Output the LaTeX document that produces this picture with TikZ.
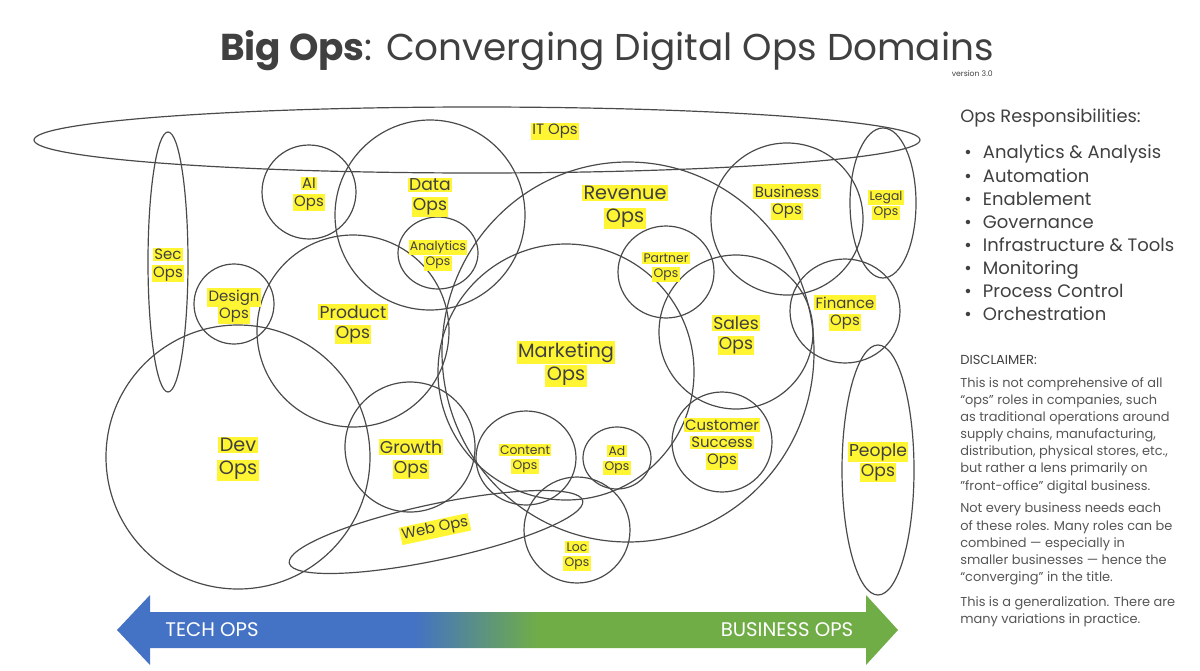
\documentclass[tikz,border=0pt]{standalone}
\usepackage{fontspec}
\setmainfont{Poppins}
\definecolor{inkgrey}{HTML}{404040}
\definecolor{notegrey}{HTML}{555555}
\definecolor{ringgrey}{HTML}{4A4A4A}
\definecolor{hlyellow}{HTML}{FFF533}
\definecolor{techblue}{HTML}{4472C4}
\definecolor{bizgreen}{HTML}{70AD47}
\pgfdeclarehorizontalshading{techbiz}{100bp}{color(0bp)=(techblue); color(44bp)=(techblue); color(52bp)=(bizgreen); color(100bp)=(bizgreen)}
\newcommand{\hilite}[1]{{\setlength{\fboxsep}{1pt}\colorbox{hlyellow}{#1}}}

\begin{document}
\begin{tikzpicture}[
                x=0.025cm, y=-0.025cm,
                ring/.style={draw=ringgrey, line width=0.85pt},
                tag/.style={align=center, inner sep=0pt, text=inkgrey, yshift=-1.5pt},
                hugetag/.style={tag, font=\fontsize{13.7}{16.3}\selectfont},
                bigtag/.style={tag, font=\fontsize{12.2}{14.2}\selectfont},
                midtag/.style={tag, font=\fontsize{10.6}{12.4}\selectfont},
                smalltag/.style={tag, font=\fontsize{8.8}{11}\selectfont},
            ]
                \useasboundingbox (0,0) rectangle (1200,670);
                \node[font=\fontsize{26.6}{32}\selectfont, text=inkgrey] (title) at (607,51) {\textbf{Big Ops}: Converging Digital Ops Domains};
                \node[font=\fontsize{5.5}{7}\selectfont, text=inkgrey, anchor=east, inner sep=0pt] (version) at (993,74) {version 3.0};

                \draw[ring] (477,140) ellipse [x radius=443, y radius=33];
                \draw[ring] (168,262) ellipse [x radius=20, y radius=130];
                \draw[ring] (309,192) circle [radius=47];
                \draw[ring] (430,215) circle [radius=95];
                \draw[ring] (438,253) ellipse [x radius=40, y radius=36];
                \draw[ring] (234,304) circle [radius=40];
                \draw[ring] (353,331) circle [radius=96];
                \draw[ring] (238,457) circle [radius=132];
                \draw[ring] (410,447) circle [radius=65];
                \draw[ring] (628,352) ellipse [x radius=186, y radius=190];
                \draw[ring] (566,372) circle [radius=128];
                \draw[ring] (526,458) ellipse [x radius=50, y radius=47];
                \draw[ring] (617,458) ellipse [x radius=34, y radius=31];
                \draw[ring, rotate around={12:(436,532)}] (436,532) ellipse [x radius=150, y radius=28];
                \draw[ring] (577,530) circle [radius=53];
                \draw[ring] (666,272) ellipse [x radius=48, y radius=46];
                \draw[ring] (736,332) circle [radius=77];
                \draw[ring] (787,219) circle [radius=76];
                \draw[ring] (883,203) ellipse [x radius=33, y radius=75];
                \draw[ring] (845,311) ellipse [x radius=55, y radius=52];
                \draw[ring] (722,442) circle [radius=50];
                \draw[ring] (878,470) ellipse [x radius=36, y radius=125];

                \node[midtag] (itops) at (555,129) {\hilite{IT Ops}};
                \node[midtag] (secops) at (168,263) {\hilite{Sec}\\\hilite{Ops}};
                \node[midtag] (aiops) at (309,192) {\hilite{AI}\\\hilite{Ops}};
                \node[bigtag] (dataops) at (430,195) {\hilite{Data}\\\hilite{Ops}};
                \node[smalltag] (analyticsops) at (438,253) {\hilite{Analytics}\\\hilite{Ops}};
                \node[midtag] (designops) at (234,304) {\hilite{Design}\\\hilite{Ops}};
                \node[bigtag] (productops) at (353,322) {\hilite{Product}\\\hilite{Ops}};
                \node[hugetag] (devops) at (238,457) {\hilite{Dev}\\\hilite{Ops}};
                \node[bigtag] (growthops) at (411,457) {\hilite{Growth}\\\hilite{Ops}};
                \node[hugetag] (revops) at (625,205) {\hilite{Revenue}\\\hilite{Ops}};
                \node[hugetag] (mktops) at (566,362) {\hilite{Marketing}\\\hilite{Ops}};
                \node[smalltag] (contentops) at (525,457) {\hilite{Content}\\\hilite{Ops}};
                \node[smalltag] (adops) at (617,458) {\hilite{Ad}\\\hilite{Ops}};
                \node[midtag, rotate=12] (webops) at (435,527) {\hilite{Web Ops}};
                \node[smalltag] (locops) at (577,554) {\hilite{Loc}\\\hilite{Ops}};
                \node[smalltag] (partnerops) at (666,265) {\hilite{Partner}\\\hilite{Ops}};
                \node[bigtag] (salesops) at (736,333) {\hilite{Sales}\\\hilite{Ops}};
                \node[midtag] (bizops) at (787,200) {\hilite{Business}\\\hilite{Ops}};
                \node[smalltag] (legalops) at (886,203) {\hilite{Legal}\\\hilite{Ops}};
                \node[midtag] (financeops) at (845,311) {\hilite{Finance}\\\hilite{Ops}};
                \node[midtag] (csops) at (722,442) {\hilite{Customer}\\\hilite{Success}\\\hilite{Ops}};
                \node[bigtag] (peopleops) at (878,460) {\hilite{People}\\\hilite{Ops}};

                \shade[shading=techbiz] (117,630) -- (150,595) -- (150,612) -- (866,612) -- (866,595) -- (898,630) -- (866,665) -- (866,648) -- (150,648) -- (150,665) -- cycle;
                \node[font=\fontsize{14}{16}\selectfont, text=white] (techops) at (212,630) {TECH OPS};
                \node[font=\fontsize{14}{16}\selectfont, text=white] (businessops) at (787,630) {BUSINESS OPS};

                \node[anchor=west, inner sep=0pt, font=\fontsize{12.7}{15}\selectfont, text=inkgrey] (resp) at (960,118) {Ops Responsibilities:};
                \node[anchor=north west, align=left, inner sep=0pt, font=\fontsize{12.8}{16.4}\selectfont, text=inkgrey] (duties) at (964,145) {•\hspace{8pt}Analytics \& Analysis\\•\hspace{8pt}Automation\\•\hspace{8pt}Enablement\\•\hspace{8pt}Governance\\•\hspace{8pt}Infrastructure \& Tools\\•\hspace{8pt}Monitoring\\•\hspace{8pt}Process Control\\•\hspace{8pt}Orchestration};
                \node[anchor=west, inner sep=0pt, font=\fontsize{9.3}{11}\selectfont, text=inkgrey] (disclaimer) at (960,360) {DISCLAIMER:};
                \node[anchor=north west, align=left, inner sep=0pt, font=\fontsize{9.2}{12.2}\selectfont, text=notegrey] (note) at (960,377) {This is not comprehensive of all\\“ops” roles in companies, such\\as traditional operations around\\supply chains, manufacturing,\\distribution, physical stores, etc.,\\but rather a lens primarily on\\"front-office" digital business.\\[4pt]Not every business needs each\\of these roles. Many roles can be\\combined — especially in\\smaller businesses — hence the\\“converging” in the title.\\[5.5pt]This is a generalization. There are\\many variations in practice.};

            \end{tikzpicture}
\end{document}
